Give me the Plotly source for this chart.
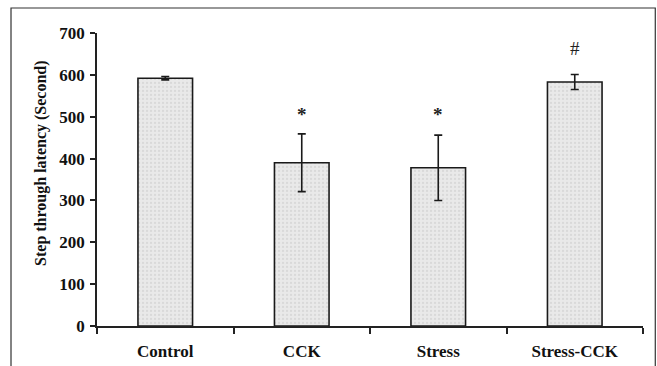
import plotly.graph_objects as go

categories = ["Control", "CCK", "Stress", "Stress-CCK"]
latency = [592, 390, 378, 583]
sem = [4, 69, 78, 18]
marks = ["*", "*", "#"]
mark_categories = ["CCK", "Stress", "Stress-CCK"]
mark_levels = [505, 505, 662]
y_ticks = [0, 100, 200, 300, 400, 500, 600, 700]

SERIF = "Liberation Serif, Times New Roman, serif"

fig = go.Figure()
fig.add_trace(go.Bar(
    x=categories, y=latency, width=0.4,
    marker=dict(
        color="#e6e6e6",
        line=dict(color="#1a1a1a", width=1.6),
        pattern=dict(shape=".", fgcolor="#c8c8c8", bgcolor="#e9e9e9", size=4, solidity=0.25),
    ),
    error_y=dict(type="data", array=sem, visible=True, color="#1a1a1a", thickness=1.6, width=4),
    showlegend=False,
))

for c, m, lv in zip(mark_categories, marks, mark_levels):
    fig.add_annotation(x=c, y=lv, text=m, showarrow=False,
                       font=dict(family=SERIF, size=19, color="#222",
                                 weight="bold" if m == "*" else "normal"))

fig.add_annotation(xref="paper", yref="paper", x=-0.123, y=0.556,
                   text="Step through latency (Second)", textangle=-90, showarrow=False,
                   font=dict(family=SERIF, size=16, color="#111", weight="bold"))

# outer frame
fig.add_shape(type="rect", xref="paper", yref="paper", x0=-0.1575, x1=1.0225, y0=-0.2, y1=1.0854,
              line=dict(color="#333", width=1.2), fillcolor="rgba(0,0,0,0)", layer="below")

fig.update_layout(
    width=657, height=366,
    margin=dict(l=97, r=14, t=33, b=40),
    paper_bgcolor="white", plot_bgcolor="white",
    font=dict(family=SERIF, color="#111"),
    bargap=0.6,
)
fig.update_xaxes(
    type="category", tickson="boundaries", ticks="outside", ticklen=6, tickwidth=1.5,
    tickcolor="#222", showline=True, linecolor="#222", linewidth=1.6,
    tickfont=dict(family=SERIF, size=17, color="#111", weight="bold"),
    ticklabelstandoff=9, showgrid=False, automargin=False,
)
fig.update_yaxes(
    range=[0, 700], tickvals=y_ticks, ticks="outside", ticklen=5, tickwidth=1.5,
    tickcolor="#222", showline=True, linecolor="#222", linewidth=1.6,
    tickfont=dict(family=SERIF, size=17, color="#111", weight="bold"),
    ticklabelstandoff=2, automargin=False,
    showgrid=False, zeroline=False,
)

fig.write_html("out.html")
